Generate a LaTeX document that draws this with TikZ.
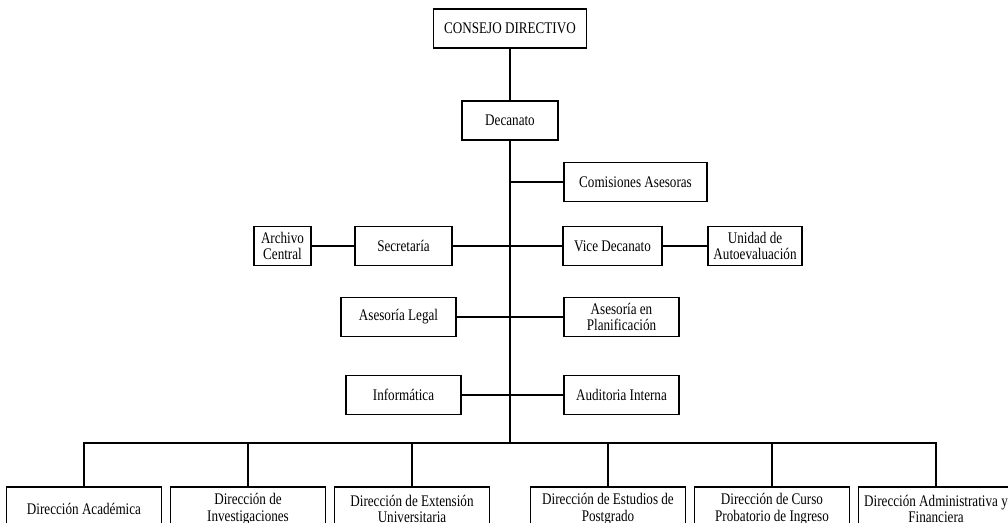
\documentclass[tikz,border=0pt]{standalone}
\usepackage{fontspec}
\setmainfont{Liberation Serif}[FakeStretch=0.81]
\usepackage{tikz}
\tikzstyle{unit}=[draw,line width=1.3pt,align=center,inner sep=2pt,minimum height=39pt,font=\fontsize{16.2}{16.5}\selectfont]
\tikzstyle{dir}=[unit,minimum width=155pt,minimum height=44pt]
\tikzstyle{conn}=[line width=2pt]

\begin{document}
\begin{tikzpicture}[x=1pt,y=-1pt]
    \useasboundingbox (0,0) rectangle (1008,522);

    \node[unit,minimum width=153pt] (con) at (510,28.5) {CONSEJO DIRECTIVO};
    \node[unit,minimum width=96pt] (dec) at (510,120.5) {Decanato};
    \node[unit,minimum width=143pt] (com) at (635.5,182) {Comisiones Asesoras};
    \node[unit,minimum width=57pt] (arc) at (282.5,246) {Archivo\\Central};
    \node[unit,minimum width=97pt] (sec) at (403.5,246) {Secretaría};
    \node[unit,minimum width=99pt] (vic) at (612.5,246) {Vice Decanato};
    \node[unit,minimum width=94pt] (uni) at (755,246) {Unidad de\\Autoevaluación};
    \node[unit,minimum width=115pt] (leg) at (398.5,317) {Asesoría Legal};
    \node[unit,minimum width=115pt] (pla) at (621.5,317) {Asesoría en\\Planificación};
    \node[unit,minimum width=115pt] (inf) at (403.5,395) {Informática};
    \node[unit,minimum width=115pt] (aud) at (621.5,395) {Auditoria Interna};

    \node[dir] (aca) at (84,509) {Dirección Académica};
    \node[dir] (inv) at (248,509) {Dirección de\\Investigaciones};
    \node[dir] (ext) at (412,509) {Dirección de Extensión\\Universitaria};
    \node[dir] (pos) at (608,509) {Dirección de Estudios de\\Postgrado};
    \node[dir] (cur) at (772,509) {Dirección de Curso\\Probatorio de Ingreso};
    \node[dir] (adm) at (936,509) {Dirección Administrativa y\\Financiera};

    \coordinate (bus) at (510,443);

    \draw[conn] (con) -- (dec);
    \draw[conn] (dec) -- (bus);
    \draw[conn] (com) -- (com -| dec);
    \draw[conn] (arc) -- (sec);
    \draw[conn] (sec) -- (vic);
    \draw[conn] (vic) -- (uni);
    \draw[conn] (leg) -- (pla);
    \draw[conn] (inf) -- (aud);

    \draw[conn] (aca.north) -- (aca.north |- bus) -- (adm.north |- bus) -- (adm.north);
    \foreach \d in {inv,ext,pos,cur}
        \draw[conn] (\d.north) -- (\d.north |- bus);
\end{tikzpicture}
\end{document}
